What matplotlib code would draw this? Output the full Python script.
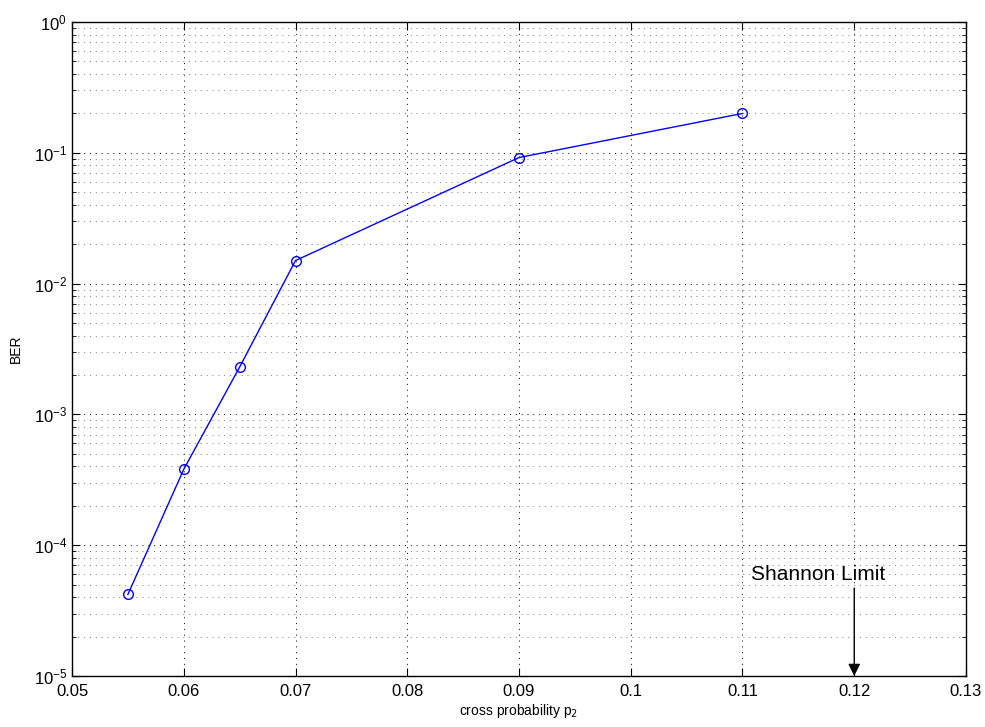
import matplotlib
matplotlib.use("Agg")
import matplotlib.pyplot as plt
from matplotlib.ticker import LogLocator, NullFormatter

# cross probability vs bit error rate
cross_prob = [0.055, 0.06, 0.065, 0.07, 0.09, 0.11]
ber = [4.2e-5, 3.8e-4, 2.3e-3, 1.5e-2, 9.2e-2, 2.0e-1]

x_ticks = [0.05, 0.06, 0.07, 0.08, 0.09, 0.1, 0.11, 0.12, 0.13]
x_tick_labels = ["0.05", "0.06", "0.07", "0.08", "0.09", "0.1", "0.11", "0.12", "0.13"]

shannon_limit = 0.12

plt.rcParams["font.family"] = ["Liberation Sans", "DejaVu Sans"]

fig = plt.figure(figsize=(9.85, 7.27), dpi=100)
ax = fig.add_axes([0.0731, 0.0702, 0.9076, 0.8995])

ax.semilogy(cross_prob, ber, color="#0000ff", linewidth=1.0, marker="o",
            markersize=7, markerfacecolor="none", markeredgecolor="#0000ff")

ax.set_xlim(0.05, 0.13)
ax.set_ylim(1e-5, 1)
ax.set_xticks(x_ticks)
ax.set_xticklabels(x_tick_labels)
ax.yaxis.set_major_locator(LogLocator(base=10, numticks=10))
ax.yaxis.set_minor_locator(LogLocator(base=10, subs=range(2, 10), numticks=20))
ax.yaxis.set_minor_formatter(NullFormatter())

ax.grid(True, which="major", linestyle=(0, (1, 5)), color="black", linewidth=0.7)
ax.grid(True, which="minor", axis="y", linestyle=(0, (1, 5)), color="#777777", linewidth=0.7)

ax.tick_params(which="both", direction="in", top=True, right=True, labelsize=12)
ax.tick_params(axis="x", pad=6)
ax.tick_params(which="major", length=6)
ax.tick_params(which="minor", length=3)
for s in ax.spines.values():
    s.set_linewidth(1.0)

ax.set_xlabel("cross probability p$_2$", fontsize=10, labelpad=2)
ax.set_ylabel("BER", fontsize=10, labelpad=8)

# arrow pointing down to the Shannon limit on the x axis
ax.annotate("", xy=(shannon_limit, 1e-5), xytext=(shannon_limit, 4.7e-5),
            arrowprops=dict(arrowstyle="-|>", color="black", lw=1.0,
                            shrinkA=0, shrinkB=0, mutation_scale=18))
ax.text(0.1168, 6.0e-5, "Shannon Limit", ha="center", va="center", fontsize=15)

fig.savefig("out.png", dpi=100)
